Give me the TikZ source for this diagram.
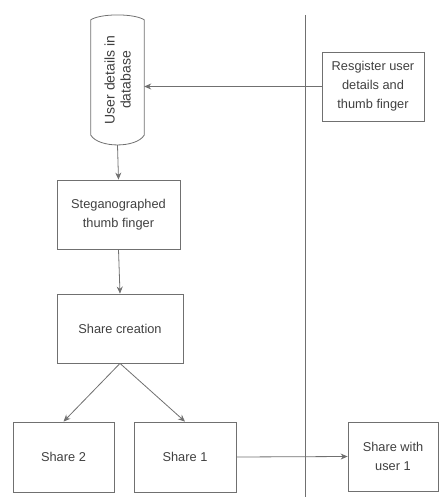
\documentclass[tikz,border=0pt]{standalone}
\usepackage{fontspec}
\setmainfont{Liberation Sans}
\usepackage{xcolor}
\usetikzlibrary{arrows.meta,positioning,calc}

\definecolor{linegray}{HTML}{707070}
\definecolor{textgray}{HTML}{404040}

\begin{document}
\begin{tikzpicture}[x=1pt, y=-1pt,
    every node/.style={font=\fontsize{12.8}{19}\selectfont, text=textgray, align=center},
    box/.style={draw=linegray, line width=0.8pt, minimum height=69pt, inner sep=0pt},
    conn/.style={draw=linegray, line width=0.8pt, -{Stealth[length=7pt, width=6pt]}}]
    \useasboundingbox (0,0) rectangle (439,497);

    % Database (cylinder)
    \node[minimum width=53pt, minimum height=130pt, inner sep=0pt] (db) at (117.5,80) {};
    \draw[linegray, line width=0.8pt]
        ([yshift=-5pt]db.north west) .. controls +(10,-6.5) and +(-10,-6.5) .. ([yshift=-5pt]db.north east)
        -- ([yshift=10pt]db.south east) .. controls +(-8,13) and +(8,13) .. ([yshift=10pt]db.south west)
        -- cycle;
    \node[rotate=90, font=\fontsize{14}{16}\selectfont] (dbtext) at (db.center) {User details in\\database};

    % Boxes
    \node[box, minimum width=102pt] (reg) at (373,86.5) {Resgister user\\details and\\thumb finger};
    \node[box, minimum width=123pt] (steg) at (118.5,214.5) {Steganographed\\thumb finger};
    \node[box, minimum width=126pt] (create) at (120,328.5) {Share creation};
    \node[box, minimum width=101pt, minimum height=70pt] (share2) at (63.5,457) {Share 2};
    \node[box, minimum width=102pt, minimum height=70pt] (share1) at (185,457) {Share 1};
    \node[box, minimum width=90pt] (sharewith) at (393,456.5) {Share with\\user 1};

    % Divider
    \coordinate (divtop) at (305,15);
    \coordinate (divbot) at (305,497);
    \draw[linegray, line width=0.8pt] (divtop) -- (divbot);

    % Connectors
    \draw[conn] (reg.west) -- (reg.west -| db.east);
    \draw[conn] (db.south) -- (steg.north);
    \draw[conn] (steg.south) -- (create.north);
    \draw[conn] (create.south) -- (share2.north);
    \draw[conn] (create.south) -- (share1.north);
    \draw[conn] (share1.east) -- (sharewith.west);
\end{tikzpicture}
\end{document}
